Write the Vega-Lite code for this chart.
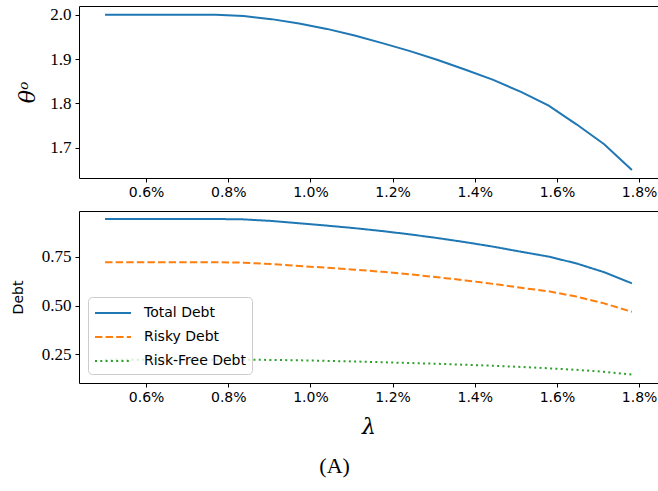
{
  "$schema": "https://vega.github.io/schema/vega-lite/v6.json",
  "padding": {"left": 10, "top": 5, "right": 1, "bottom": 5},
  "background": "white",
  "title": {"text": "(A)", "orient": "bottom", "anchor": "middle", "font": "Liberation Serif", "fontSize": 22, "fontWeight": "normal", "color": "black", "offset": 18},
  "config": {
    "view": {"stroke": "black", "strokeWidth": 1},
    "axis": {"grid": false, "domain": false, "tickColor": "black", "tickSize": 4, "labelColor": "black", "titleColor": "black", "titleFontWeight": "normal"},
    "concat": {"spacing": 10}
  },
  "resolve": {"legend": {"color": "independent", "strokeDash": "independent"}},
  "datasets": {
    "theta": [
      {"lam": 0.5, "theta": 2.0},
      {"lam": 0.5675, "theta": 2.0},
      {"lam": 0.635, "theta": 2.0},
      {"lam": 0.7025, "theta": 2.0},
      {"lam": 0.77, "theta": 2.0},
      {"lam": 0.8375, "theta": 1.997},
      {"lam": 0.905, "theta": 1.99},
      {"lam": 0.9725, "theta": 1.98},
      {"lam": 1.04, "theta": 1.968},
      {"lam": 1.1075, "theta": 1.953},
      {"lam": 1.175, "theta": 1.936},
      {"lam": 1.2425, "theta": 1.918},
      {"lam": 1.31, "theta": 1.898},
      {"lam": 1.3775, "theta": 1.876},
      {"lam": 1.445, "theta": 1.853},
      {"lam": 1.5125, "theta": 1.826},
      {"lam": 1.58, "theta": 1.795},
      {"lam": 1.6475, "theta": 1.753},
      {"lam": 1.715, "theta": 1.708},
      {"lam": 1.7825, "theta": 1.65}
    ],
    "debt": [
      {"lam": 0.5, "series": "Total Debt", "value": 0.944},
      {"lam": 0.5675, "series": "Total Debt", "value": 0.944},
      {"lam": 0.635, "series": "Total Debt", "value": 0.944},
      {"lam": 0.7025, "series": "Total Debt", "value": 0.944},
      {"lam": 0.77, "series": "Total Debt", "value": 0.944},
      {"lam": 0.8375, "series": "Total Debt", "value": 0.942},
      {"lam": 0.905, "series": "Total Debt", "value": 0.934},
      {"lam": 0.9725, "series": "Total Debt", "value": 0.922},
      {"lam": 1.04, "series": "Total Debt", "value": 0.91},
      {"lam": 1.1075, "series": "Total Debt", "value": 0.897},
      {"lam": 1.175, "series": "Total Debt", "value": 0.882},
      {"lam": 1.2425, "series": "Total Debt", "value": 0.865},
      {"lam": 1.31, "series": "Total Debt", "value": 0.846},
      {"lam": 1.3775, "series": "Total Debt", "value": 0.825},
      {"lam": 1.445, "series": "Total Debt", "value": 0.802},
      {"lam": 1.5125, "series": "Total Debt", "value": 0.776},
      {"lam": 1.58, "series": "Total Debt", "value": 0.751},
      {"lam": 1.6475, "series": "Total Debt", "value": 0.716},
      {"lam": 1.715, "series": "Total Debt", "value": 0.671},
      {"lam": 1.7825, "series": "Total Debt", "value": 0.614},
      {"lam": 0.5, "series": "Risky Debt", "value": 0.722},
      {"lam": 0.5675, "series": "Risky Debt", "value": 0.722},
      {"lam": 0.635, "series": "Risky Debt", "value": 0.722},
      {"lam": 0.7025, "series": "Risky Debt", "value": 0.722},
      {"lam": 0.77, "series": "Risky Debt", "value": 0.722},
      {"lam": 0.8375, "series": "Risky Debt", "value": 0.72},
      {"lam": 0.905, "series": "Risky Debt", "value": 0.713},
      {"lam": 0.9725, "series": "Risky Debt", "value": 0.703},
      {"lam": 1.04, "series": "Risky Debt", "value": 0.694},
      {"lam": 1.1075, "series": "Risky Debt", "value": 0.684},
      {"lam": 1.175, "series": "Risky Debt", "value": 0.673},
      {"lam": 1.2425, "series": "Risky Debt", "value": 0.66},
      {"lam": 1.31, "series": "Risky Debt", "value": 0.645},
      {"lam": 1.3775, "series": "Risky Debt", "value": 0.629},
      {"lam": 1.445, "series": "Risky Debt", "value": 0.611},
      {"lam": 1.5125, "series": "Risky Debt", "value": 0.591},
      {"lam": 1.58, "series": "Risky Debt", "value": 0.573},
      {"lam": 1.6475, "series": "Risky Debt", "value": 0.546},
      {"lam": 1.715, "series": "Risky Debt", "value": 0.511},
      {"lam": 1.7825, "series": "Risky Debt", "value": 0.468},
      {"lam": 0.5, "series": "Risk-Free Debt", "value": 0.222},
      {"lam": 0.5675, "series": "Risk-Free Debt", "value": 0.222},
      {"lam": 0.635, "series": "Risk-Free Debt", "value": 0.222},
      {"lam": 0.7025, "series": "Risk-Free Debt", "value": 0.222},
      {"lam": 0.77, "series": "Risk-Free Debt", "value": 0.222},
      {"lam": 0.8375, "series": "Risk-Free Debt", "value": 0.222},
      {"lam": 0.905, "series": "Risk-Free Debt", "value": 0.221},
      {"lam": 0.9725, "series": "Risk-Free Debt", "value": 0.219},
      {"lam": 1.04, "series": "Risk-Free Debt", "value": 0.216},
      {"lam": 1.1075, "series": "Risk-Free Debt", "value": 0.213},
      {"lam": 1.175, "series": "Risk-Free Debt", "value": 0.209},
      {"lam": 1.2425, "series": "Risk-Free Debt", "value": 0.205},
      {"lam": 1.31, "series": "Risk-Free Debt", "value": 0.201},
      {"lam": 1.3775, "series": "Risk-Free Debt", "value": 0.196},
      {"lam": 1.445, "series": "Risk-Free Debt", "value": 0.191},
      {"lam": 1.5125, "series": "Risk-Free Debt", "value": 0.185},
      {"lam": 1.58, "series": "Risk-Free Debt", "value": 0.178},
      {"lam": 1.6475, "series": "Risk-Free Debt", "value": 0.17},
      {"lam": 1.715, "series": "Risk-Free Debt", "value": 0.16},
      {"lam": 1.7825, "series": "Risk-Free Debt", "value": 0.146}
    ]
  },
  "vconcat": [
    {
      "width": 579,
      "height": 172,
      "data": {"name": "theta"},
      "mark": {"type": "line", "color": "#1f77b4", "strokeWidth": 2, "clip": true},
      "encoding": {
        "x": {"field": "lam", "type": "quantitative", "scale": {"domain": [0.4366, 1.846], "nice": false, "zero": false},
          "axis": {"title": null, "values": [0.6, 0.8, 1.0, 1.2, 1.4, 1.6, 1.8], "labelExpr": "format(datum.value, '.1f') + '%'", "labelFont": "DejaVu Sans", "labelFontSize": 14, "labelPadding": 3}},
        "y": {"field": "theta", "type": "quantitative", "scale": {"domain": [1.632, 2.0196], "nice": false, "zero": false},
          "axis": {"title": "θᵒ", "values": [1.7, 1.8, 1.9, 2.0], "format": ".1f", "labelFont": "Liberation Serif", "labelFontSize": 17, "labelPadding": 4, "titleFont": "DejaVu Serif", "titleFontStyle": "italic", "titleFontSize": 22, "titlePadding": 10}}
      }
    },
    {
      "width": 579,
      "height": 172,
      "data": {"name": "debt"},
      "mark": {"type": "line", "strokeWidth": 2, "clip": true},
      "encoding": {
        "x": {"field": "lam", "type": "quantitative", "scale": {"domain": [0.4366, 1.846], "nice": false, "zero": false},
          "axis": {"title": "λ", "values": [0.6, 0.8, 1.0, 1.2, 1.4, 1.6, 1.8], "labelExpr": "format(datum.value, '.1f') + '%'", "labelFont": "DejaVu Sans", "labelFontSize": 14, "labelPadding": 3, "titleFont": "DejaVu Serif", "titleFontStyle": "italic", "titleFontSize": 22, "titlePadding": 12}},
        "y": {"field": "value", "type": "quantitative", "scale": {"domain": [0.1026, 0.985], "nice": false, "zero": false},
          "axis": {"title": "Debt", "values": [0.25, 0.5, 0.75], "format": ".2f", "labelFont": "Liberation Serif", "labelFontSize": 17, "labelPadding": 4, "titleFont": "DejaVu Sans", "titleFontSize": 14, "titlePadding": 16}},
        "color": {"field": "series", "type": "nominal",
          "scale": {"domain": ["Total Debt", "Risky Debt", "Risk-Free Debt"], "range": ["#1f77b4", "#ff7f0e", "#2ca02c"]},
          "legend": {"title": null, "orient": "bottom-left", "offset": 9, "symbolType": "M-1,0H3", "symbolSize": 324, "symbolStrokeWidth": 2, "symbolFillColor": "transparent", "labelFont": "DejaVu Sans", "labelFontSize": 14, "labelColor": "black", "labelOffset": 30, "rowPadding": 7, "padding": 6, "fillColor": "rgba(255,255,255,0.8)", "strokeColor": "#cccccc", "cornerRadius": 4}},
        "strokeDash": {"field": "series", "type": "nominal",
          "scale": {"domain": ["Total Debt", "Risky Debt", "Risk-Free Debt"], "range": [[1, 0], [7.4, 3.2], [2, 3.3]]},
          "legend": null}
      }
    }
  ]
}
